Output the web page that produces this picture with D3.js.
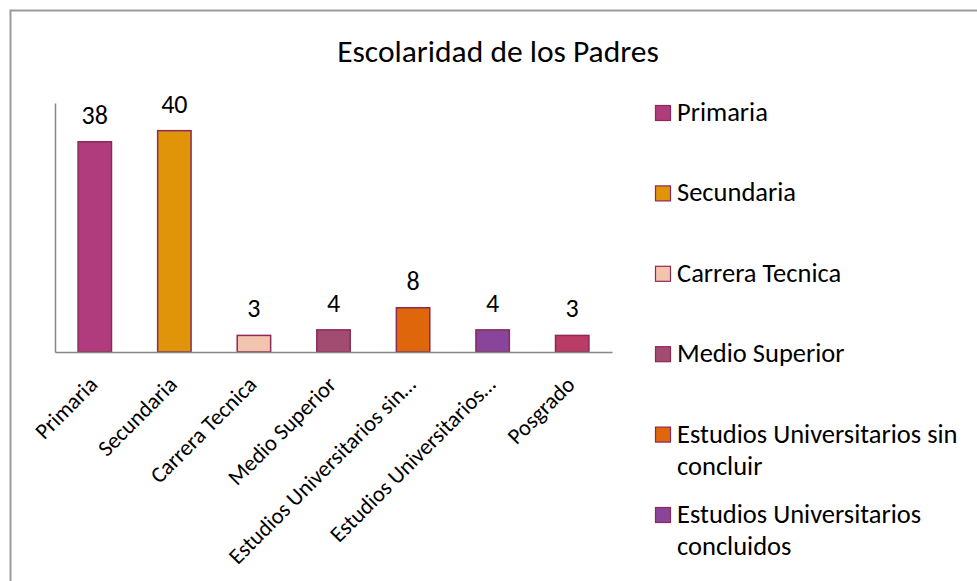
<!DOCTYPE html>
<html>
<head>
<meta charset="utf-8">
<script src="https://cdn.jsdelivr.net/npm/d3@7"></script>
<style>
  body { margin: 0; background: #fff; }
  svg { display: block; font-family: Carlito, "Open Sans", "Noto Sans", sans-serif; }
</style>
</head>
<body>
<div id="chart"></div>
<script>
// Declare constants
const FRAME_WIDTH = 977;
const FRAME_HEIGHT = 581;

// data
const categories = ["Primaria", "Secundaria", "Carrera Tecnica", "Medio Superior",
  "Estudios Universitarios sin concluir", "Estudios Universitarios concluidos", "Posgrado"];
const tickLabels = ["Primaria", "Secundaria", "Carrera Tecnica", "Medio Superior",
  "Estudios Universitarios sin…", "Estudios Universitarios…", "Posgrado"];
const values = [38, 40, 3, 4, 8, 4, 3];
const colors = ["#b13c7d", "#e0940a", "#f2c4ae", "#a24c72", "#e0660b", "#89449b", "#ba3c66"];
const yMax = 45;

const svg = d3.select("#chart")
  .append("svg")
    .attr("width", FRAME_WIDTH)
    .attr("height", FRAME_HEIGHT);

// outer chart border (runs off the page on right and bottom)
svg.append("rect")
  .attr("x", 10.5).attr("y", 10.5)
  .attr("width", 1000).attr("height", 600)
  .attr("fill", "none")
  .attr("stroke", "#9a9a9a")
  .attr("stroke-width", 2);

svg.append("text")
  .attr("x", 498).attr("y", 62)
  .attr("text-anchor", "middle")
  .attr("font-size", 31.5)
  .attr("fill", "#000")
  .text("Escolaridad de los Padres");

// scales
const x = d3.scaleBand()
  .domain(categories)
  .range([55, 612])
  .paddingInner(0.58)
  .paddingOuter(0.29);

const y = d3.scaleLinear()
  .domain([0, yMax])
  .range([352, 103]);

const color = d3.scaleOrdinal().domain(categories).range(colors);

// bars
svg.selectAll(".bar")
  .data(categories)
  .join("rect")
    .attr("class", "bar")
    .attr("x", d => x(d))
    .attr("y", (d, i) => y(values[i]))
    .attr("width", x.bandwidth())
    .attr("height", (d, i) => y(0) - y(values[i]))
    .attr("fill", d => color(d))
    .attr("stroke", "#8a2b55")
    .attr("stroke-width", 1.5);

// value labels
svg.selectAll(".val")
  .data(categories)
  .join("text")
    .attr("class", "val")
    .attr("x", d => x(d) + x.bandwidth() / 2)
    .attr("y", (d, i) => y(values[i]) - 18)
    .attr("text-anchor", "middle")
    .attr("font-size", 26)
    .text((d, i) => values[i]);

// axes
const xAxis = svg.append("g")
  .attr("transform", `translate(0,${y(0)})`)
  .call(d3.axisBottom(x).tickSize(0).tickSizeOuter(0)
    .tickFormat((d, i) => tickLabels[i]));
xAxis.attr("font-family", null).attr("font-size", null);
xAxis.select(".domain").attr("stroke", "#868686").attr("stroke-width", 1.5);
xAxis.selectAll("text")
  .attr("font-size", 22.5)
  .attr("fill", "#000")
  .attr("text-anchor", "end")
  .attr("dy", 0)
  .attr("y", 0)
  .attr("transform", "translate(4,34) rotate(-45)");

const yAxis = svg.append("g")
  .attr("transform", `translate(${x.range()[0]},0)`)
  .call(d3.axisLeft(y).tickValues([]).tickSizeOuter(0));
yAxis.select(".domain").attr("stroke", "#868686").attr("stroke-width", 1.5);

// legend (the last entry falls below the visible frame, as in the original)
const legendStep = 80.4;
const legendTop = 105;
const shown = categories.filter((d, i) => legendTop + i * legendStep + 20 < FRAME_HEIGHT);

const legend = svg.append("g").attr("transform", `translate(655,${legendTop})`);
const item = legend.selectAll(".item")
  .data(shown)
  .join("g")
    .attr("class", "item")
    .attr("transform", (d, i) => `translate(0,${i * legendStep})`);

item.append("rect")
  .attr("x", 0.5).attr("y", 0.5)
  .attr("width", 15).attr("height", 15)
  .attr("fill", d => color(d))
  .attr("stroke", "#8a2b55")
  .attr("stroke-width", 1.2);

item.append("text")
  .attr("x", 22)
  .attr("y", 16)
  .attr("font-size", 26.5)
  .each(function(d) {
    // wrap words so lines fit inside the frame
    const t = d3.select(this);
    const words = d.split(" ");
    let line = [];
    let tspan = t.append("tspan").attr("x", 22);
    words.forEach(w => {
      line.push(w);
      tspan.text(line.join(" "));
      if (tspan.node().getComputedTextLength() > 298 && line.length > 1) {
        line.pop();
        tspan.text(line.join(" "));
        line = [w];
        tspan = t.append("tspan").attr("x", 22).attr("dy", 32).text(w);
      }
    });
  });
</script>
</body>
</html>
